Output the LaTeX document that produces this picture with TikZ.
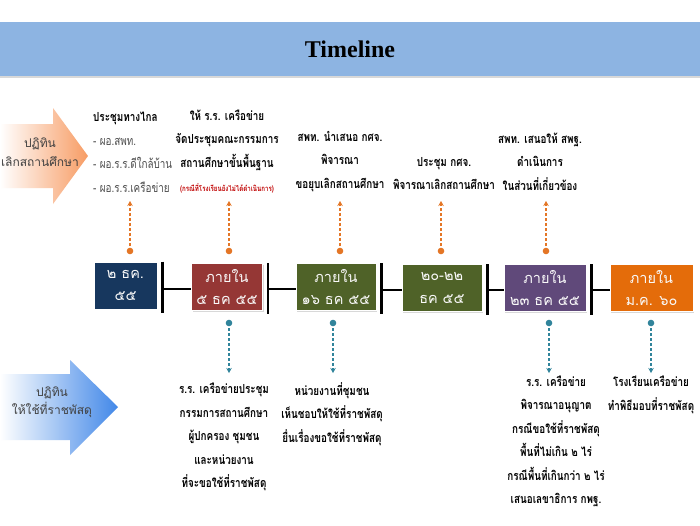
\documentclass[tikz,border=0pt]{standalone}
\usepackage{fontspec}
\setmainfont{Liberation Serif}
\newfontfamily\thaifont[Script=Thai]{Loma}
\newfontfamily\thaicond[Script=Thai,FakeStretch=0.79]{Loma}
\usetikzlibrary{arrows.meta,shadows}

\definecolor{bandblue}{RGB}{141,180,226}
\definecolor{navybox}{RGB}{23,55,94}
\definecolor{redbox}{RGB}{149,55,53}
\definecolor{greenbox}{RGB}{79,98,40}
\definecolor{purplebox}{RGB}{96,73,122}
\definecolor{orangebox}{RGB}{228,108,10}
\definecolor{dotorange}{RGB}{228,118,38}
\definecolor{dotteal}{RGB}{49,132,155}
\definecolor{arrowblue}{RGB}{66,136,232}
\definecolor{arroworange}{RGB}{247,156,100}
\definecolor{labelred}{RGB}{192,0,0}

\tikzset{
  datebox/.style={draw=white, line width=1pt, text=white!95!gray, inner sep=0pt,
    minimum height=47pt, align=center, font=\thaifont\fontsize{14.5}{22}\selectfont,
    drop shadow={opacity=0.3, shadow xshift=1.2pt, shadow yshift=-1.2pt}},
  coltext/.style={align=center, inner sep=0pt, text=black,
    font=\thaicond\bfseries\fontsize{12.5}{23.5}\selectfont},
  arrtext/.style={align=center, inner sep=0pt, text=black!75,
    font=\thaifont\fontsize{12}{18.5}\selectfont},
  uparr/.style={dotorange, line width=1.6pt, dash pattern=on 3pt off 2pt,
    -{Stealth[length=5pt,width=5.5pt]}},
  downarr/.style={dotteal, line width=1.6pt, dash pattern=on 3pt off 2pt,
    -{Stealth[length=5pt,width=5.5pt]}},
  stopbar/.style={line width=2.2pt, black},
  link/.style={line width=1.8pt, black}
}

\begin{document}
\begin{tikzpicture}[x=1pt,y=-1pt]
  \useasboundingbox (0,0) rectangle (700,525);
  \fill[white] (0,0) rectangle (700,525);

  % title band
  \fill[bandblue, drop shadow={opacity=0.3, shadow xshift=0pt, shadow yshift=-1.5pt}] (0,22) rectangle (700,76);
  \node[font=\bfseries\fontsize{24}{24}\selectfont] (title) at (350,49) {Timeline};

  % side arrows
  \shade[left color=white, right color=arroworange]
    (0,124) -- (53,124) -- (53,108) -- (88,156) -- (53,204) -- (53,188) -- (0,188) -- cycle;
  \node[arrtext] (sideA) at (40,152) {ปฏิทิน\\เลิกสถานศึกษา};
  \shade[left color=white, right color=arrowblue]
    (0,374) -- (70,374) -- (70,360) -- (118,407) -- (70,455) -- (70,440) -- (0,440) -- cycle;
  \node[arrtext] (sideB) at (52,402) {ปฏิทิน\\ให้ใช้ที่ราชพัสดุ};

  % date boxes
  \node[datebox, fill=navybox, minimum width=63pt] (b1) at (125.5,285.5) {๒ ธค.\\๕๕};
  \node[datebox, fill=redbox, minimum width=71pt] (b2) at (227,287) {ภายใน\\๕ ธค ๕๕};
  \node[datebox, fill=greenbox, minimum width=80pt] (b3) at (336,287) {ภายใน\\๑๖ ธค ๕๕};
  \node[datebox, fill=greenbox, minimum width=80pt] (b4) at (442,288) {๒๐-๒๒\\ธค ๕๕};
  \node[datebox, fill=purplebox, minimum width=82pt] (b5) at (545,288) {ภายใน\\๒๓ ธค ๕๕};
  \node[datebox, fill=orangebox, minimum width=83pt] (b6) at (651.5,288) {ภายใน\\ม.ค. ๖๐};

  \foreach \a/\b in {b1/b2,b2/b3,b3/b4,b4/b5,b5/b6}{
    \draw[stopbar] ([xshift=5pt]\a.north east) -- ([xshift=5pt,yshift=-3pt]\a.south east);
    \draw[link] ([xshift=5pt,yshift=-2pt]\b.west -| \a.east) -- ([yshift=-2pt]\b.west);
  }

  % texts above
  \node[coltext, align=left, anchor=west] (t1) at (93,152)
    {ประชุมทางไกล\\{\mdseries\color{black!70}- ผอ.สพท.}\\{\mdseries\color{black!70}- ผอ.ร.ร.ดีใกล้บ้าน}\\{\mdseries\color{black!70}- ผอ.ร.ร.เครือข่าย}};
  \node[coltext] (t2) at (227,140) {ให้ ร.ร. เครือข่าย\\จัดประชุมคณะกรรมการ\\สถานศึกษาขั้นพื้นฐาน};
  \node[coltext, text=labelred, font=\thaicond\bfseries\fontsize{7.8}{9}\selectfont] (t2r) at (227,188)
    {(กรณีที่โรงเรียนยังไม่ได้ดำเนินการ)};
  \node[coltext] (t3) at (340,161.5) {สพท. นำเสนอ กศจ.\\พิจารณา\\ขอยุบเลิกสถานศึกษา};
  \node[coltext] (t4) at (444,173.5) {ประชุม กศจ.\\พิจารณาเลิกสถานศึกษา};
  \node[coltext] (t5) at (540,161.5) {สพท. เสนอให้ สพฐ.\\ดำเนินการ\\ในส่วนที่เกี่ยวข้อง};

  % texts below
  \node[coltext] (s2) at (224,437) {ร.ร. เครือข่ายประชุม\\กรรมการสถานศึกษา\\ผู้ปกครอง ชุมชน\\และหน่วยงาน\\ที่จะขอใช้ที่ราชพัสดุ};
  \node[coltext] (s3) at (332,414) {หน่วยงานที่ชุมชน\\เห็นชอบให้ใช้ที่ราชพัสดุ\\ยื่นเรื่องขอใช้ที่ราชพัสดุ};
  \node[coltext] (s5) at (556,441.5) {ร.ร. เครือข่าย\\พิจารณาอนุญาต\\กรณีขอใช้ที่ราชพัสดุ\\พื้นที่ไม่เกิน ๒ ไร่\\กรณีพื้นที่เกินกว่า ๒ ไร่\\เสนอเลขาธิการ กพฐ.};
  \node[coltext] (s6) at (651,395) {โรงเรียนเครือข่าย\\ทำพิธีมอบที่ราชพัสดุ};

  % dashed links
  \foreach \n/\x in {1/130,2/229,3/340,4/441,5/546}{
    \coordinate (d\n) at (\x,251);
    \coordinate (u\n) at (\x,201);
    \draw[uparr] (d\n) -- (u\n);
    \fill[dotorange] (d\n) circle[radius=3.3pt];
  }
  \foreach \n/\x in {2/229,3/333,5/549,6/651}{
    \coordinate (e\n) at (\x,323);
    \coordinate (w\n) at (\x,373);
    \draw[downarr] (e\n) -- (w\n);
    \fill[dotteal] (e\n) circle[radius=3.3pt];
  }
\end{tikzpicture}
\end{document}
